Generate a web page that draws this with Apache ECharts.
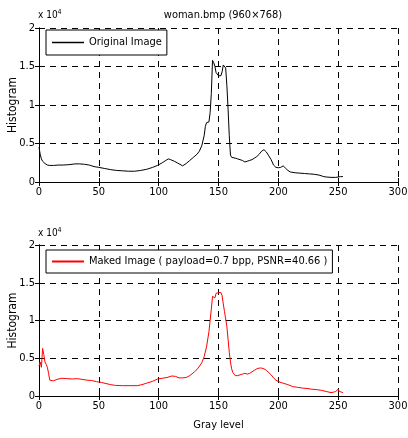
<!DOCTYPE html>
<html><head><meta charset="utf-8">
<script src="https://cdn.jsdelivr.net/npm/echarts@6/dist/echarts.min.js"></script>
<style>html,body{margin:0;padding:0;background:#fff}#c{width:408px;height:438px}</style>
</head><body><div id="c"></div>
<script>
// Gray levels and histogram counts (in units of 10^4)
const xTop = [0,1,2,3,5,7,9,12,16,20,25,30,34,38,42,46,50,55,60,65,70,75,80,85,90,95,99,103,106,108,110,113,116,120,123,126,129,132,134,136,138,139,140,141,142,143,144,145,146,147,148,149,150,151,152,153,154,155,156,157,158,159,160,161,162,164,166,168,170,172,174,176,178,180,182,184,186,188,190,192,194,196,198,200,202,204,206,208,210,214,218,222,226,230,234,238,240,244,248,252,254];
const yTop = [0.45,0.36,0.30,0.27,0.24,0.22,0.215,0.215,0.22,0.22,0.225,0.235,0.235,0.23,0.22,0.20,0.19,0.175,0.16,0.15,0.145,0.14,0.14,0.15,0.165,0.19,0.215,0.25,0.28,0.30,0.29,0.27,0.245,0.21,0.24,0.28,0.32,0.36,0.40,0.47,0.60,0.72,0.77,0.77,0.78,0.90,1.15,1.58,1.55,1.50,1.42,1.40,1.38,1.37,1.38,1.43,1.52,1.54,1.48,1.25,0.95,0.60,0.35,0.32,0.31,0.31,0.30,0.29,0.28,0.26,0.27,0.28,0.29,0.31,0.33,0.36,0.40,0.42,0.39,0.34,0.29,0.22,0.19,0.185,0.19,0.21,0.18,0.15,0.13,0.12,0.115,0.11,0.105,0.10,0.09,0.07,0.065,0.06,0.06,0.07,0.07];
const xBot = [0,1,2,3,4,5,6,7,8,9,10,12,15,19,23,28,32,36,40,44,48,52,56,60,64,70,76,82,86,90,95,99,103,107,111,114,117,120,123,126,130,133,136,138,140,142,143,144,145,146,147,148,149,150,151,152,153,154,155,156,157,158,159,160,161,162,164,166,168,170,172,174,176,178,180,182,184,186,188,190,192,194,196,198,200,204,208,212,216,220,224,228,232,236,240,244,246,248,250,251,252,253,254];
const yBot = [0.40,0.45,0.38,0.63,0.55,0.45,0.42,0.38,0.30,0.21,0.20,0.20,0.22,0.235,0.23,0.225,0.23,0.22,0.21,0.205,0.19,0.18,0.165,0.15,0.14,0.137,0.137,0.137,0.15,0.17,0.195,0.225,0.235,0.245,0.265,0.26,0.24,0.24,0.245,0.27,0.32,0.37,0.44,0.52,0.65,0.85,1.0,1.15,1.32,1.34,1.30,1.36,1.38,1.37,1.38,1.37,1.33,1.22,1.12,1.02,0.92,0.75,0.58,0.45,0.36,0.31,0.27,0.27,0.28,0.29,0.30,0.29,0.30,0.32,0.34,0.36,0.37,0.37,0.36,0.34,0.31,0.28,0.24,0.21,0.19,0.17,0.15,0.125,0.115,0.105,0.10,0.09,0.085,0.075,0.06,0.045,0.05,0.06,0.09,0.06,0.07,0.05,0.045];
const xTicks = [0,50,100,150,200,250,300];
const yTicks = [0,0.5,1,1.5,2];
const titleText = 'woman.bmp (960×768)';
const legendTop = 'Original Image';
const legendBot = 'Maked Image ( payload=0.7 bpp, PSNR=40.66 )';
const yName = 'Histogram';
const xName = 'Gray level';

const FONT = '"DejaVu Sans Condensed", "Liberation Sans Narrow", "Liberation Sans", Arial, sans-serif';
const lbl = {color:'#000', fontFamily:FONT, fontSize:11};
function mkX(grid, pos, show, name){
  return {type:'value', gridIndex:grid, position:pos, min:0, max:300, interval:50,
    axisLine:{show:true, lineStyle:{color:'#000', width:1}},
    axisTick:{show:true, inside:true, length:4, lineStyle:{color:'#000'}},
    axisLabel:Object.assign({show:show, margin:5}, lbl),
    splitLine:{show:show, lineStyle:{color:'#000', type:[6,5], width:1}},
    name: name || '', nameLocation:'middle', nameGap:24, nameMoveOverlap:false, nameTextStyle:lbl};
}
function mkY(grid, pos, show){
  return {type:'value', gridIndex:grid, position:pos, min:0, max:2, interval:0.5,
    axisLine:{show:true, lineStyle:{color:'#000', width:1}},
    axisTick:{show:true, inside:true, length:4, lineStyle:{color:'#000'}},
    axisLabel:Object.assign({show:show, margin:4, formatter:v=>String(v)}, lbl),
    splitLine:{show:show, lineStyle:{color:'#000', type:[6,5], width:1}},
    name: show ? yName : '', nameLocation:'middle', nameGap:20, nameMoveOverlap:false,
    nameTextStyle:Object.assign({}, lbl, {fontSize:12})};
}
const ICON = 'rect';
const chart = echarts.init(document.getElementById('c'), null, {renderer:'canvas'});
chart.setOption({
  animation:false,
  backgroundColor:'#fff',
  title:{text:titleText, left:218, top:5, textAlign:'center',
    textStyle:{fontFamily:FONT, fontSize:11, fontWeight:'normal', color:'#000'}},
  grid:[{left:39, right:10, top:28, height:154, containLabel:false, outerBoundsMode:'none'},
        {left:39, right:10, top:245, height:151, containLabel:false, outerBoundsMode:'none'}],
  xAxis:[mkX(0,'bottom',true), mkX(0,'top',false), mkX(1,'bottom',true,xName), mkX(1,'top',false)],
  yAxis:[mkY(0,'left',true), mkY(0,'right',false), mkY(1,'left',true), mkY(1,'right',false)],
  legend:[
    {data:[{name:legendTop, icon:ICON, itemStyle:{color:'#000', borderWidth:0}}], left:46, top:30, orient:'horizontal',
     borderColor:'#000', borderWidth:1, backgroundColor:'#fff', borderRadius:0,
     padding:[7,5,7,6], itemWidth:32, itemHeight:1.5, itemGap:4, textStyle:lbl},
    {data:[{name:legendBot, icon:ICON, itemStyle:{color:'#ff0000', borderWidth:0}}], left:46, top:250, orient:'horizontal',
     borderColor:'#000', borderWidth:1, backgroundColor:'#fff', borderRadius:0,
     padding:[6,5,6,6], itemWidth:32, itemHeight:2, itemGap:4, textStyle:lbl}
  ],
  graphic:[
    {type:'text', left:38, top:9, style:{rich:{a:{fontFamily:FONT,fontSize:10,fill:'#000'},s:{fontFamily:FONT,fontSize:7,fill:'#000',verticalAlign:'top',padding:[0,0,6,0]}}, text:'{a|x 10}{s|4}'}},
    {type:'text', left:38, top:227, style:{rich:{a:{fontFamily:FONT,fontSize:10,fill:'#000'},s:{fontFamily:FONT,fontSize:7,fill:'#000',verticalAlign:'top',padding:[0,0,6,0]}}, text:'{a|x 10}{s|4}'}}
  ],
  series:[
    {name:legendTop, type:'line', xAxisIndex:0, yAxisIndex:0, showSymbol:false, symbol:'none',
     lineStyle:{color:'#000', width:1}, itemStyle:{color:'#000'},
     data:xTop.map((x,i)=>[x,yTop[i]])},
    {name:legendBot, type:'line', xAxisIndex:2, yAxisIndex:2, showSymbol:false, symbol:'none',
     lineStyle:{color:'#ff0000', width:1}, itemStyle:{color:'#ff0000'},
     data:xBot.map((x,i)=>[x,yBot[i]])}
  ]
});
</script></body></html>
